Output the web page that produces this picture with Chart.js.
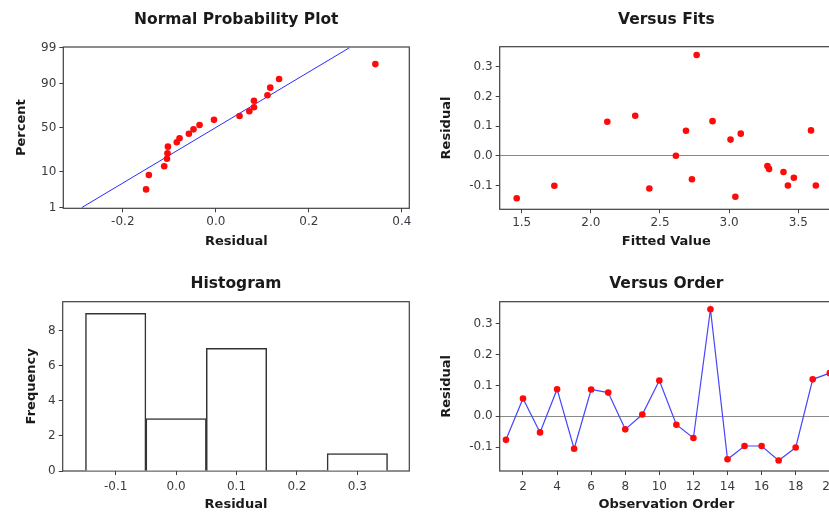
<!DOCTYPE html>
<html>
<head>
<meta charset="utf-8">
<script src="https://cdn.jsdelivr.net/npm/chart.js@4/dist/chart.umd.min.js"></script>
<style>
  html, body { margin: 0; padding: 0; background: #fff; overflow: hidden; width: 829px; height: 513px; }
  canvas { position: absolute; }
</style>
</head>
<body>
<canvas id="npp" width="420" height="255" style="left:0;top:0"></canvas>
<canvas id="fits" width="423" height="255" style="left:420px;top:0"></canvas>
<canvas id="hist" width="420" height="253" style="left:0;top:260px"></canvas>
<canvas id="order" width="423" height="253" style="left:420px;top:260px"></canvas>
<script>
// --- data ---
const nppResidual = [-0.150, -0.144, -0.111, -0.105, -0.104, -0.103, -0.084, -0.078, -0.058, -0.048,
                     -0.035, -0.004, 0.051, 0.072, 0.082, 0.082, 0.111, 0.117, 0.136, 0.343];
const nppPercent = [3.6, 8.4, 13.0, 18.3, 22.8, 29.0, 33.5, 37.9, 43.0, 48.0,
                    53.0, 59.0, 63.3, 68.4, 72.4, 78.4, 82.7, 87.8, 92.2, 96.8];
const nppLineResidual = [-0.288, 0.287];
const nppLinePercent = [1, 99];
const nppXTicks = [-0.2, 0.0, 0.2, 0.4];
const nppYTicks = [1, 10, 50, 90, 99];

const fitsFitted = [1.464, 1.736, 2.119, 2.321, 2.423, 2.615, 2.688, 2.731, 2.765, 2.880,
                    3.010, 3.045, 3.084, 3.277, 3.289, 3.393, 3.425, 3.468, 3.592, 3.627];
const fitsResidual = [-0.142, -0.100, 0.115, 0.135, -0.109, 0.001, 0.085, -0.078, 0.339, 0.117,
                      0.055, -0.137, 0.075, -0.034, -0.044, -0.054, -0.099, -0.073, 0.086, -0.099];
const fitsXTicks = [1.5, 2.0, 2.5, 3.0, 3.5];

const histMid = [-0.1, 0.0, 0.1, 0.2, 0.3];
const histFreq = [9, 3, 7, 0, 1];
const histYTicks = [0, 2, 4, 6, 8];

const orderObs = [1, 2, 3, 4, 5, 6, 7, 8, 9, 10, 11, 12, 13, 14, 15, 16, 17, 18, 19, 20];
const orderResidual = [-0.076, 0.058, -0.052, 0.088, -0.105, 0.087, 0.077, -0.042, 0.006, 0.116,
                       -0.027, -0.070, 0.347, -0.139, -0.096, -0.096, -0.143, -0.101, 0.120, 0.140];
const orderXTicks = [2, 4, 6, 8, 10, 12, 14, 16, 18, 20];

const residTicks = [-0.1, 0.0, 0.1, 0.2, 0.3];

Chart.defaults.font.family = 'DejaVu Sans';
Chart.defaults.animation = false;

// inverse normal cdf (Acklam), used by the probability axis
function probit(p) {
  const a = [-3.969683028665376e+01, 2.209460984245205e+02, -2.759285104469687e+02, 1.383577518672690e+02, -3.066479806614716e+01, 2.506628277459239e+00];
  const b = [-5.447609879822406e+01, 1.615858368580409e+02, -1.556989798598866e+02, 6.680131188771972e+01, -1.328068155288572e+01];
  const c = [-7.784894002430293e-03, -3.223964580411365e-01, -2.400758277161838e+00, -2.549732539343734e+00, 4.374664141464968e+00, 2.938163982698783e+00];
  const d = [7.784695709041462e-03, 3.224671290700398e-01, 2.445134137142996e+00, 3.754408661907416e+00];
  const pl = 0.02425;
  if (p < pl) {
    const q = Math.sqrt(-2 * Math.log(p));
    return (((((c[0]*q+c[1])*q+c[2])*q+c[3])*q+c[4])*q+c[5]) / ((((d[0]*q+d[1])*q+d[2])*q+d[3])*q+1);
  }
  if (p > 1 - pl) {
    const q = Math.sqrt(-2 * Math.log(1 - p));
    return -(((((c[0]*q+c[1])*q+c[2])*q+c[3])*q+c[4])*q+c[5]) / ((((d[0]*q+d[1])*q+d[2])*q+d[3])*q+1);
  }
  const q = p - 0.5, r = q * q;
  return (((((a[0]*r+a[1])*r+a[2])*r+a[3])*r+a[4])*r+a[5])*q / (((((b[0]*r+b[1])*r+b[2])*r+b[3])*r+b[4])*r+1);
}

class ProbabilityScale extends Chart.LinearScale {
  getPixelForValue(value) {
    const z0 = probit(this.min / 100), z1 = probit(this.max / 100);
    return this.getPixelForDecimal((probit(value / 100) - z0) / (z1 - z0));
  }
}
ProbabilityScale.id = 'probability';
ProbabilityScale.defaults = Chart.LinearScale.defaults;
Chart.register(ProbabilityScale);

// box around the plot area
const framePlugin = {
  id: 'frame',
  beforeDatasetsDraw(chart) {
    const { ctx, chartArea: a } = chart;
    ctx.save();
    ctx.strokeStyle = '#404040';
    ctx.lineWidth = 1.2;
    ctx.strokeRect(a.left, a.top, a.right - a.left, a.bottom - a.top);
    ctx.restore();
  }
};

const tickColor = '#3a3a44';
const tickFont = { size: 12 };
const axisTitleFont = { size: 13, weight: 'bold' };

function xAxis(min, max, ticks, label, height, tickPad, titlePad, fmt) {
  return {
    type: 'linear', min, max, offset: false,
    afterBuildTicks: s => { s.ticks = ticks.map(v => ({ value: v })); },
    afterFit: s => { s.height = height; },
    grid: { drawOnChartArea: false, offset: false, tickLength: 4, color: '#404040', tickColor: '#404040' },
    border: { display: false },
    ticks: { autoSkip: false, maxRotation: 0, padding: tickPad, color: tickColor, font: tickFont, callback: fmt },
    title: { display: true, text: label, color: '#1a1a1a', font: axisTitleFont, padding: { top: 0, bottom: titlePad } }
  };
}

function yAxis(type, min, max, ticks, label, width, titlePad, fmt, zeroLine) {
  return {
    type, min, max,
    afterBuildTicks: s => { s.ticks = ticks.map(v => ({ value: v })); },
    afterFit: s => { s.width = width; },
    grid: {
      drawOnChartArea: !!zeroLine, tickLength: 4, tickColor: '#404040',
      color: c => (zeroLine && c.tick && c.tick.value === 0) ? '#8a8a8a' : 'rgba(0,0,0,0)'
    },
    border: { display: false },
    ticks: { autoSkip: false, padding: 3, color: tickColor, font: tickFont, callback: fmt },
    title: { display: true, text: label, color: '#1a1a1a', font: axisTitleFont, padding: { top: titlePad, bottom: 0 } }
  };
}

function titleOpts(text, top, bottom) {
  return {
    display: true, text, fullSize: false, color: '#1a1a1a',
    font: { size: 15.5, weight: 'bold' }, padding: { top, bottom }
  };
}

const dec1 = v => Number(v).toFixed(1);
const plain = v => String(v);

// Normal Probability Plot
new Chart(document.getElementById('npp'), {
  type: 'scatter',
  data: {
    datasets: [
      { data: nppResidual.map((r, i) => ({ x: r, y: nppPercent[i] })),
        pointRadius: 3.3, pointBackgroundColor: '#ff0a0a', pointBorderWidth: 0 },
      { data: nppLineResidual.map((r, i) => ({ x: r, y: nppLinePercent[i] })),
        showLine: true, pointRadius: 0, borderColor: '#2a2aff', borderWidth: 1 }
    ]
  },
  options: {
    responsive: false, maintainAspectRatio: false,
    layout: { padding: { left: 0, right: 10.7, top: 0, bottom: 0 } },
    plugins: { legend: { display: false }, tooltip: { enabled: false },
      title: titleOpts('Normal Probability Plot', 10.7, 17.7) },
    scales: {
      x: xAxis(-0.328, 0.416, nppXTicks, 'Residual', 46.7, 2.8, 5.9, dec1),
      y: yAxis('probability', 0.939, 99.061, nppYTicks, 'Percent', 63.3, 14.2, plain, false)
    }
  },
  plugins: [framePlugin]
});

// Versus Fits
new Chart(document.getElementById('fits'), {
  type: 'scatter',
  data: {
    datasets: [
      { data: fitsFitted.map((f, i) => ({ x: f, y: fitsResidual[i] })),
        pointRadius: 3.3, pointBackgroundColor: '#ff0a0a', pointBorderWidth: 0 }
    ]
  },
  options: {
    responsive: false, maintainAspectRatio: false,
    layout: { padding: { left: 0, right: 10, top: 0, bottom: 0 } },
    plugins: { legend: { display: false }, tooltip: { enabled: false },
      title: titleOpts('Versus Fits', 10.7, 17.4) },
    scales: {
      x: xAxis(1.341, 3.751, fitsXTicks, 'Fitted Value', 45.7, 2.8, 5.9, dec1),
      y: yAxis('linear', -0.179, 0.367, residTicks, 'Residual', 79.7, 19.2, dec1, true)
    }
  },
  plugins: [framePlugin]
});

// Histogram
new Chart(document.getElementById('hist'), {
  type: 'bar',
  data: {
    datasets: [
      { data: histMid.map((m, i) => ({ x: m, y: histFreq[i] })),
        backgroundColor: '#ffffff', borderColor: '#333333', borderWidth: 1.5,
        barPercentage: 1, categoryPercentage: 1 }
    ]
  },
  options: {
    responsive: false, maintainAspectRatio: false,
    layout: { padding: { left: 0, right: 10.7, top: 0, bottom: 0 } },
    plugins: { legend: { display: false }, tooltip: { enabled: false },
      title: titleOpts('Histogram', 14.2, 8.9) },
    scales: {
      x: xAxis(-0.1877, 0.386, histMid, 'Residual', 42, 4.5, 0.2, dec1),
      y: yAxis('linear', 0, 9.67, histYTicks, 'Frequency', 62.7, 23.7, plain, false)
    }
  },
  plugins: [framePlugin]
});

// Versus Order
new Chart(document.getElementById('order'), {
  type: 'scatter',
  data: {
    datasets: [
      { data: orderObs.map((o, i) => ({ x: o, y: orderResidual[i] })),
        showLine: true, borderColor: '#4646ff', borderWidth: 1.2,
        pointRadius: 3.3, pointBackgroundColor: '#ff0a0a', pointBorderWidth: 0 }
    ]
  },
  options: {
    responsive: false, maintainAspectRatio: false,
    layout: { padding: { left: 0, right: 10, top: 0, bottom: 0 } },
    plugins: { legend: { display: false }, tooltip: { enabled: false },
      title: titleOpts('Versus Order', 14.2, 8.9) },
    scales: {
      x: xAxis(0.633, 20.19, orderXTicks, 'Observation Order', 42, 4.5, 0.2, plain),
      y: yAxis('linear', -0.177, 0.3715, residTicks, 'Residual', 79.7, 19.2, dec1, true)
    }
  },
  plugins: [framePlugin]
});
</script>
</body>
</html>
